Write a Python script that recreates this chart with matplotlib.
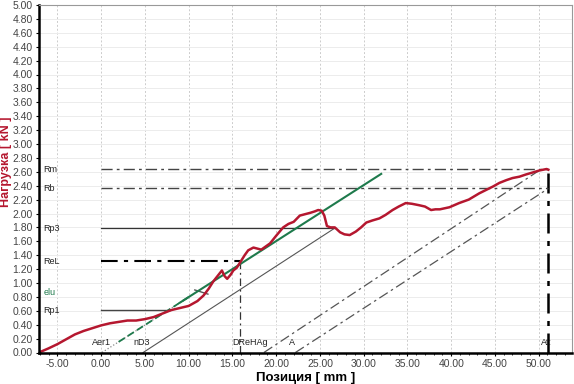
import matplotlib
matplotlib.use("Agg")
import matplotlib.pyplot as plt
from matplotlib.ticker import MultipleLocator, FormatStrFormatter

plt.rcParams['font.family'] = ['Liberation Sans', 'DejaVu Sans']

# load curve (position mm, load kN)
pos = [-7.1, -6, -5, -4, -3, -2, -1, 0, 1, 2, 3, 4, 5, 6, 7, 8, 9, 10, 11, 11.7,
       12.3, 12.8, 13.3, 13.8, 14.1, 14.4, 14.8, 15.1, 15.5, 15.9, 16.4, 16.8, 17.4,
       18.3, 19.3, 20.0, 20.8, 21.4, 22.0, 22.7, 23.3, 23.9, 24.4, 24.8, 25.2, 25.5,
       25.8, 26.2, 26.7, 27.3, 27.8, 28.4, 29.1, 29.7, 30.3, 31.0, 31.8, 32.5, 33.3,
       34.0, 34.8, 35.5, 36.3, 37.0, 37.7, 38.2, 38.7, 39.8, 40.9, 42.0, 43.2, 44.0,
       44.8, 45.5, 46.3, 47.0, 47.8, 48.5, 49.3, 50.1, 50.9, 51.1]
load = [0.0, 0.06, 0.12, 0.19, 0.26, 0.31, 0.35, 0.39, 0.42, 0.44, 0.46, 0.46, 0.48,
        0.51, 0.56, 0.61, 0.64, 0.67, 0.74, 0.82, 0.92, 1.02, 1.10, 1.18, 1.10, 1.06,
        1.12, 1.18, 1.22, 1.30, 1.40, 1.47, 1.51, 1.48, 1.57, 1.68, 1.80, 1.85, 1.88,
        1.97, 1.99, 2.01, 2.03, 2.05, 2.04, 1.97, 1.82, 1.80, 1.80, 1.73, 1.70, 1.69,
        1.74, 1.80, 1.87, 1.90, 1.93, 1.98, 2.05, 2.10, 2.15, 2.14, 2.12, 2.10, 2.05,
        2.06, 2.06, 2.09, 2.15, 2.20, 2.29, 2.34, 2.39, 2.44, 2.48, 2.51, 2.53, 2.56,
        2.59, 2.62, 2.64, 2.63]

# characteristic levels
levels = {"Rm": 2.64, "Rb": 2.36, "Rp3": 1.79, "ReL": 1.31, "Rp1": 0.61}
level_end = {"Rm": 51.1, "Rb": 51.1, "Rp3": 26.7, "ReL": 15.9, "Rp1": 7.9}
elu_y = 0.86

# modulus line and offset lines
green_x = [0.1, 32.0]
green_y = [0.0, 2.57]
nd3_x = [4.8, 26.7]
nd3_y = [0.0, 1.79]
a1_x = [18.6, 50.3]
a1_y = [0.0, 2.64]
a2_x = [22.2, 51.1]
a2_y = [0.0, 2.36]
elu_mark_x = [10.7, 12.2]
elu_mark_y = [0.90, 0.84]

bottom_labels = [("Aer1", 0.0), ("nD3", 4.6), ("DReHAg", 17.0), ("A", 21.8), ("At:", 50.9)]

fig = plt.figure(figsize=(5.74, 3.84), dpi=100)
ax = fig.add_axes([39/574, 1-352.5/384, (572-39)/574, (352.5-5)/384])

ax.set_xlim(-7.1, 53.8)
ax.set_ylim(0, 5.0)
ax.xaxis.set_major_locator(MultipleLocator(5))
ax.xaxis.set_minor_locator(MultipleLocator(1))
ax.yaxis.set_major_locator(MultipleLocator(0.2))
ax.xaxis.set_major_formatter(FormatStrFormatter('%.2f'))
ax.yaxis.set_major_formatter(FormatStrFormatter('%.2f'))
ax.tick_params(labelsize=7.5, labelcolor='#444444', length=2.5, width=0.8, pad=2)
ax.tick_params(which='minor', length=1.5, width=0.6)

ax.grid(axis='x', color='#cccccc', linestyle=(0, (2, 2)), linewidth=0.7)
ax.grid(axis='y', color='#ececec', linestyle='-', linewidth=0.7)
ax.set_axisbelow(True)

for s in ['left', 'bottom']:
    ax.spines[s].set_linewidth(1.8)
    ax.spines[s].set_color('black')
for s in ['top', 'right']:
    ax.spines[s].set_linewidth(0.8)
    ax.spines[s].set_color('#999999')

dashdot = (0, (8, 3, 2, 3))
slope = (green_y[1] - green_y[0]) / (green_x[1] - green_x[0])

# horizontal levels
ax.plot([0, level_end["Rm"]], [levels["Rm"]]*2, color='#444444', lw=1.0, ls=dashdot)
ax.plot([0, level_end["Rb"]], [levels["Rb"]]*2, color='#444444', lw=1.0, ls=dashdot)
ax.plot([0, level_end["Rp3"]], [levels["Rp3"]]*2, color='#333333', lw=0.9)
ax.plot([0, level_end["ReL"]], [levels["ReL"]]*2, color='black', lw=1.5, ls=dashdot)
ax.plot([0, level_end["Rp1"]], [levels["Rp1"]]*2, color='#444444', lw=1.0)

# vertical markers
ax.plot([level_end["ReL"]]*2, [0, levels["ReL"]], color='#333333', lw=0.9, ls=(0, (6, 3, 1.5, 3)))
ax.plot([level_end["Rm"]]*2, [0, levels["Rm"]], color='black', lw=1.8, ls=dashdot)

# offset lines
ax.plot(nd3_x, nd3_y, color='#555555', lw=0.8)
ax.plot(a1_x, a1_y, color='#555555', lw=0.9, ls=dashdot)
ax.plot(a2_x, a2_y, color='#555555', lw=0.9, ls=dashdot)
ax.plot(elu_mark_x, elu_mark_y, color='#555555', lw=1.0)

# modulus line: dotted start, dashed green, then solid green
ax.plot([green_x[0], 10], [0, (10 - green_x[0]) * slope], color='#888888', lw=0.9, ls=':')
ax.plot([2, 10], [(2 - green_x[0]) * slope, (10 - green_x[0]) * slope],
        color='#1e7a4c', lw=1.3, ls=(0, (4, 2)))
ax.plot([9, green_x[1]], [(9 - green_x[0]) * slope, green_y[1]], color='#1e7a4c', lw=1.5)

# load curve
ax.plot(pos, load, color='#b5172f', lw=1.8)

# labels
for name, yv in levels.items():
    ax.text(-6.6, yv, name, fontsize=6.5, color='#222222', va='center', ha='left')
ax.text(-6.6, elu_y, "elu", fontsize=6.5, color='#1e7a4c', va='center', ha='left')
for name, xv in bottom_labels:
    ax.text(xv, 0.14, name, fontsize=6.5, color='#222222', va='center', ha='center')

ax.set_xlabel("Позиция [ mm ]", fontsize=9.5, fontweight='bold', labelpad=2)
ax.set_ylabel("Нагрузка [ kN ]", fontsize=9, fontweight='bold', color='#b5172f')
ax.yaxis.set_label_coords(-0.051, 0.55)

fig.savefig("out.png", dpi=100)
